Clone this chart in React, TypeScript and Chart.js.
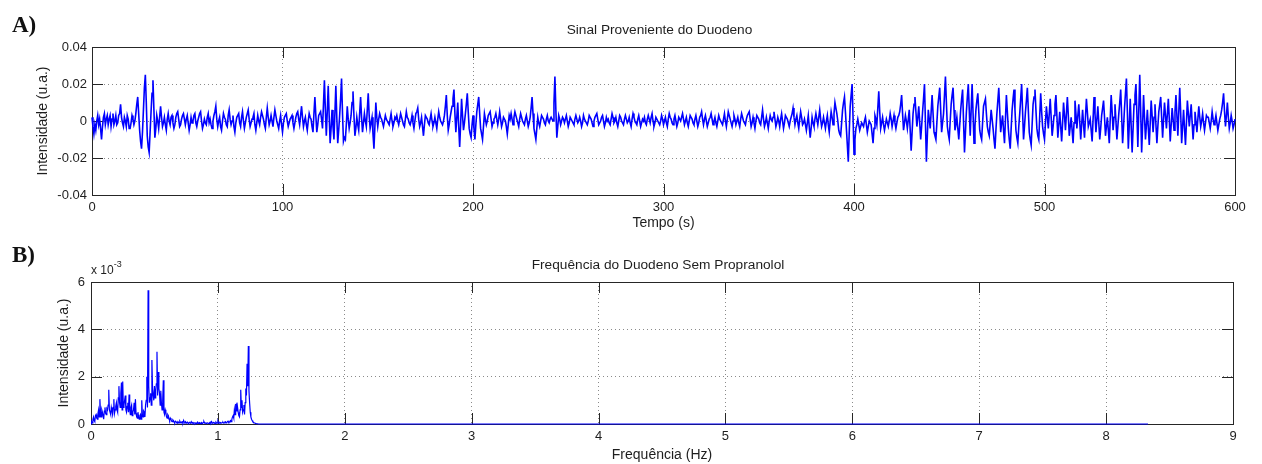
import React, { useEffect, useRef } from 'react';
import { Chart, registerables } from 'chart.js';

Chart.register(...registerables);

// ---------- Panel A: time signal (values in units of 1e-3 u.a., one sample every 0.5 s) ----------
const SIGNAL_DT = 0.5; // s
const signalMilli: number[] = [
  2, -3, -7, -2, -5, 0, 3, -2, 1, -4, -10, -3, 2, 4, -2, 1, 3, -2, 1, 3, -3, 1, 4, -2, 0, 3, -2, -1, 3, 4, 9, 2, -1, -3, 2, 0, -3, 3, 1, -4,
  -4, -1, 3, 1, -2, 0, 4, 9, 13, 4, -5, -11, -15, -6, 6, 18, 25, 10, -8, -14, -17, -6, 5, 15, 22, 6, -9, -4, 3, 0, -4, 2, 8, 2, -3, -1, 2, -2, -5, 1,
  4, 0, -2, 2, 3, -1, -4, -2, 2, 4, 5, 1, -3, -2, 1, 3, 4, 1, -2, 1, 3, -1, -5, -2, 2, -1, 0, 3, 4, -1, -3, 0, 2, 4, 5, 0, -4, -2, 1, -1,
  -2, 2, 4, -1, 1, -2, -4, 0, 3, 5, 8, 1, -3, 0, 2, -3, -5, 0, 4, 2, 1, -2, -3, 3, 6, 1, -2, 0, 3, -3, -6, -1, 2, 3, 4, -1, -3, 2, 5, 0,
  -4, -1, 2, 4, 6, 1, -3, -1, 1, 2, 4, -2, -5, -1, 3, 0, -2, 2, 5, 3, 1, -2, -4, 2, 7, 2, -2, 0, 3, 0, -3, 2, 6, 3, 0, -2, -4, 0, 3, -2,
  -6, -1, 2, 3, 4, 0, -3, -1, 1, 2, 3, -1, -4, -1, 2, 4, 5, 1, -2, 3, 8, 2, -3, 0, 2, -2, -5, 0, 4, 2, 1, -3, -6, 4, 13, 3, -6, -2, 3, 4,
  5, 1, -4, 9, 22, 6, -8, 5, 19, 3, -12, -4, 6, -3, -10, 4, 19, 2, -12, -5, 3, 12, 23, 4, -11, -9, -10, -2, 8, 1, -4, -1, 3, 10, 16, 3, -8, -4, 2, -2,
  -5, 4, 13, 2, -6, -1, 4, 0, -3, 6, 15, 3, -4, -1, 2, -7, -15, -3, 10, 2, -3, 1, 4, 2, 1, -1, -3, 0, 3, 1, 0, -1, -2, 1, 4, 0, -3, -1, 2, 1,
  3, 0, -2, 1, 4, 2, 0, -2, -3, 1, 5, 2, 1, -1, -2, 0, 3, -1, -4, 0, 4, 5, 7, 1, -3, -1, 2, -3, -8, -2, 3, 2, 1, -1, -2, 1, 4, 0, -3, -1,
  2, -1, -4, 1, 5, 2, 0, -1, -2, 0, 3, 8, 14, 3, -5, -2, 2, 5, 8, 12, 17, 4, -6, 2, 10, -3, -14, -2, 12, 3, -5, -1, 4, 9, 15, 5, -4, -7, -9, -2,
  3, -4, -10, -2, 5, 9, 13, 4, -4, -7, -10, -3, 4, 1, -2, 0, 3, 4, 5, 1, -3, -1, 1, 2, 4, 1, -2, 1, 5, 1, -3, -1, 2, 1, 0, -3, -7, -2, 3, 1,
  4, 1, -2, 2, 5, 3, 1, -1, -3, 1, 4, 2, 0, -1, -2, 1, 3, 0, -3, -1, 2, 7, 13, 4, -4, -7, -10, -4, 2, -1, -3, 0, 3, 2, 1, -1, -2, 1, 3, 0,
  -1, 1, 2, 1, 0, 10, 24, 6, -9, -3, 3, 1, -2, 0, 2, 1, -1, 1, 3, 0, -3, -1, 2, 1, 0, -1, -2, 1, 3, 1, -1, 0, 2, 0, -3, -1, 3, 1, 0, -1,
  -2, 0, 3, 2, 1, -1, -3, 0, 2, 3, 4, 1, -2, -1, 0, 2, 3, 0, -3, -1, 2, 0, 1, -1, -2, 1, 4, 2, -1, 0, 2, -1, -3, 0, 3, 2, 0, -1, -2, 1,
  3, 1, -1, 0, 2, -1, -3, 1, 4, 2, 0, -1, -2, 1, 3, 0, -3, -1, 1, 0, 2, -1, -2, 1, 3, 1, -1, 2, 4, 0, -3, -1, 2, 1, 0, -1, -2, 0, 3, 1,
  -2, 0, 2, -1, -3, 1, 4, 2, 1, -1, -2, 1, 3, 0, -3, -1, 2, 1, 0, 2, 4, 1, -2, 0, 2, -1, -3, 0, 3, 2, 1, -1, -2, 1, 3, 0, -3, -1, 2, 3,
  5, 1, -2, 1, 3, 0, -3, -1, 1, 2, 4, 1, -2, 0, 2, -1, -3, 0, 3, 1, 0, -1, -2, 1, 4, 0, -3, 1, 5, 3, 1, -1, -3, 0, 3, 1, -2, 0, 2, -1,
  -3, 1, 4, 2, 0, -1, -2, 1, 3, 4, 5, 1, -3, -1, 2, -1, -4, 0, 3, 2, 1, -1, -2, 2, 6, 1, -3, -1, 2, -1, -4, 0, 3, 1, 0, 2, 5, 1, -3, -1,
  2, 0, -3, 1, 4, 0, -4, -1, 3, 2, 1, -1, -3, 0, 2, 4, 7, 2, -2, 1, 3, -1, -4, 1, 5, 2, -2, -1, 1, -2, -5, -1, 3, -3, -9, -4, 2, -1, -3, 1,
  4, 1, -2, 2, 6, 1, -3, -1, 2, -1, -4, 0, 3, -2, -6, 0, 5, 2, -2, 4, 10, 7, 4, 0, -5, -7, -8, -1, 6, 10, 13, 5, -4, -13, -22, -6, 8, 14, 20, 2,
  -18, -10, -4, -2, 1, -2, -5, -3, -1, -2, -3, 0, 2, -2, -6, -3, 0, -1, -2, -7, -12, -4, 3, 1, -2, 7, 16, 5, -4, -1, 2, -2, -5, -2, 1, -1, -3, 0, 4, 1,
  -3, 0, 3, -1, -4, -1, 2, 3, 5, 9, 14, 4, -5, -1, 3, 0, -4, 1, 6, -5, -16, -6, 4, 9, 13, 5, -3, 2, 8, -1, -10, -3, 5, 12, 20, -1, -22, -8, 6, 1,
  -4, 5, 14, 4, -6, -8, -10, -1, 8, 13, 18, 6, -6, -1, 4, 14, 24, 10, -3, -7, -10, 0, 9, 14, 18, 6, -5, -2, 2, -4, -10, -2, 6, 12, 17, 0, -17, -6, 5, 13,
  20, 6, -8, 6, 20, 4, -12, -3, 6, 11, 15, 5, -5, -8, -10, -1, 8, 10, 12, 4, -3, -6, -8, -1, 6, 1, -4, -10, -15, -5, 4, 11, 18, 6, -6, -1, 3, -5, -12, 1,
  14, 5, -4, -10, -15, -4, 6, 12, 17, 6, -5, -9, -12, -3, 4, 12, 20, 5, -10, -3, 5, 11, 18, 6, -6, -10, -13, -2, 9, 13, 17, 6, -4, -8, -10, 3, 15, 5, -3, -7,
  -10, -1, 8, 2, -4, 4, 12, 2, -8, -3, 3, 9, 14, 3, -9, -2, 5, -3, -11, -1, 10, 3, -5, 4, 13, 3, -8, -3, 2, -5, -12, -1, 11, 4, -4, 3, 9, 0, -10, -2,
  6, -2, -9, 2, 12, 5, -3, -1, 1, -5, -11, 1, 13, 4, -6, 1, 8, -1, -10, -4, 3, 7, 11, 2, -8, -3, 2, -5, -12, 1, 14, 5, -5, 2, 9, 0, -10, -3, 4, 10,
  17, 3, -12, -3, 7, 15, 23, 5, -15, -2, 12, -3, -17, -4, 9, 14, 20, 4, -14, 6, 25, 5, -17, -2, 14, 2, -10, -2, 6, -4, -13, -1, 11, 3, -6, 2, 9, -2, -12, -3,
  5, 9, 13, 2, -9, 1, 10, 3, -4, 4, 12, 1, -11, -2, 7, 1, -5, 5, 14, 3, -8, 5, 18, 4, -12, -3, 6, -4, -13, -1, 11, 4, -3, 3, 9, -1, -10, -2, 5, 0,
  -6, 1, 8, 2, -3, 0, 4, -1, -5, -1, 3, 2, 2, -1, -4, 0, 5, 1, -2, 0, 3, -1, -5, -2, 1, 3, 6, 10, 15, 5, -3, 3, 10, 2, -4, -1, 3, 0, -4, -2,
  1,
];
const timeRange = [0, 600];
const timeTickStep = 100;
const signalRange = [-0.04, 0.04];
const signalTickStep = 0.02;

// ---------- Panel B: spectrum (values in units of 1e-3 u.a., one bin every 0.005 Hz up to 1.35 Hz) ----------
const FREQ_STEP = 0.005; // Hz
const spectrumMilli: number[] = [
  0, 0.1, 0.05, 0.2, 0.3, 0.15, 0.1, 0.35, 0.4, 0.25, 0.2, 0.45, 0.6, 0.3, 1.05, 0.5, 0.3, 0.6, 0.5, 0.35,
  0.2, 0.55, 0.7, 0.45, 0.4, 0.65, 0.6, 0.8, 1.45, 0.6, 0.5, 0.4, 0.7, 0.55, 0.4, 0.7, 1.05, 0.45, 0.6, 0.75,
  0.9, 0.6, 0.5, 1.1, 1.6, 0.9, 0.7, 1.3, 1.75, 0.6, 1.8, 0.7, 0.8, 1.0, 1.2, 0.6, 0.5, 0.75, 0.9, 0.5,
  1.25, 0.6, 0.4, 0.7, 0.8, 0.35, 0.5, 0.6, 0.9, 0.4, 1.05, 0.45, 0.3, 0.25, 0.5, 0.3, 0.2, 0.35, 0.4, 0.2,
  1.0, 0.4, 0.3, 0.55, 0.5, 0.3, 0.8, 1.0, 2.0, 0.7, 5.65, 1.6, 0.9, 1.1, 1.3, 0.8, 2.7, 1.5, 1.2, 1.0,
  1.6, 1.1, 1.4, 1.7, 3.05, 1.2, 2.2, 1.5, 1.3, 0.8, 1.4, 0.9, 0.6, 1.0, 1.85, 0.5, 0.4, 0.6, 0.5, 0.3,
  0.25, 0.4, 0.35, 0.2, 0.15, 0.25, 0.2, 0.12, 0.1, 0.18, 0.15, 0.08, 0.05, 0.12, 0.1, 0.06, 0.04, 0.1, 0.08, 0.05,
  0.12, 0.07, 0.05, 0.09, 0.1, 0.05, 0.15, 0.08, 0.06, 0.1, 0.04, 0.06, 0.08, 0.04, 0.03, 0.07, 0.05, 0.03, 0.1, 0.05,
  0.04, 0.06, 0.02, 0.04, 0.05, 0.02, 0.03, 0.05, 0.08, 0.03, 0.04, 0.06, 0.02, 0.03, 0.06, 0.02, 0.03, 0.07, 0.1, 0.04,
  0.05, 0.03, 0.02, 0.05, 0.04, 0.02, 0.03, 0.06, 0.08, 0.04, 0.1, 0.05, 0.04, 0.07, 0.06, 0.03, 0.03, 0.08, 0.05, 0.04,
  0.12, 0.05, 0.04, 0.07, 0.06, 0.03, 0.03, 0.06, 0.08, 0.04, 0.05, 0.09, 0.1, 0.05, 0.06, 0.1, 0.12, 0.07, 0.08, 0.12,
  0.15, 0.1, 0.2, 0.3, 0.35, 0.25, 0.6, 0.4, 0.85, 0.55, 0.9, 0.7, 0.5, 0.35, 0.3, 0.6, 1.45, 0.7, 1.0, 0.5,
  0.6, 0.8, 0.4, 0.9, 1.5, 1.2, 2.55, 1.6, 3.3, 1.4, 0.9, 0.5, 0.3, 0.2, 0.15, 0.1, 0.08, 0.05, 0.04, 0.03,
  0.02, 0.01, 0.01, 0.005, 0, 0, 0, 0, 0, 0, 0,
];
const SPECTRUM_END_HZ = 8.33;
const freqRange = [0, 9];
const freqTickStep = 1;
const spectrumRange = [0, 0.006];
const spectrumTickStep = 0.002;

const FONT = "'Liberation Sans', Arial, Helvetica, sans-serif";
const TEXT = '#1e1e1e';
const LINE_BLUE = '#0000ff';

const matlabAxes = {
  id: 'matlabAxes',
  beforeDatasetsDraw(chart: any, _args: any, opts: any) {
    const { ctx, chartArea } = chart;
    const { left, right, top, bottom } = chartArea;
    const xs = chart.scales.x;
    const ys = chart.scales.y;
    const len = opts?.tickLen ?? 11;
    ctx.save();
    ctx.strokeStyle = '#262626';
    ctx.lineWidth = 1;
    ctx.setLineDash([]);
    ctx.beginPath();
    xs.ticks.forEach((t: any) => {
      const px = Math.round(xs.getPixelForValue(t.value)) + 0.5;
      ctx.moveTo(px, bottom);
      ctx.lineTo(px, bottom - len);
      ctx.moveTo(px, top);
      ctx.lineTo(px, top + len);
    });
    ys.ticks.forEach((t: any) => {
      const py = Math.round(ys.getPixelForValue(t.value)) + 0.5;
      ctx.moveTo(left, py);
      ctx.lineTo(left + len, py);
      ctx.moveTo(right, py);
      ctx.lineTo(right - len, py);
    });
    ctx.stroke();
    ctx.strokeRect(
      Math.round(left) + 0.5,
      Math.round(top) + 0.5,
      Math.round(right - left),
      Math.round(bottom - top)
    );
    ctx.restore();
  },
};

function makeConfig(p: {
  points: { x: number; y: number }[];
  topPad: number;
  xTitle: string;
  yTitle: string;
  yTitlePad: number;
  xRange: number[];
  xStep: number;
  yRange: number[];
  yStep: number;
  yFormat: (v: number) => string;
  yAxisWidth: number;
  xAxisHeight: number;
  rightPad: number;
  yTickPad: number;
  lineWidth: number;
}): any {
  return {
    type: 'line',
    data: {
      datasets: [
        {
          data: p.points,
          borderColor: LINE_BLUE,
          borderWidth: p.lineWidth,
          pointRadius: 0,
          fill: false,
          tension: 0,
          clip: 4,
        },
      ],
    },
    options: {
      responsive: false,
      animation: false,
      events: [],
      parsing: false,
      layout: { padding: { left: 0, right: p.rightPad, top: p.topPad, bottom: 0 } },
      plugins: {
        legend: { display: false },
        tooltip: { enabled: false },
        title: { display: false },
        matlabAxes: { tickLen: 11 },
      },
      scales: {
        x: {
          type: 'linear',
          min: p.xRange[0],
          max: p.xRange[1],
          afterFit: (s: any) => {
            s.height = p.xAxisHeight;
            s.paddingLeft = 0;
            s.paddingRight = 0;
          },
          ticks: {
            stepSize: p.xStep,
            autoSkip: false,
            maxRotation: 0,
            padding: 5,
            color: TEXT,
            font: { family: FONT, size: 13 },
            callback: (v: number) => String(Math.round(v)),
          },
          grid: { color: '#8a8a8a', lineWidth: 1, drawTicks: false },
          border: { display: false, dash: [1, 3] },
          title: {
            display: true,
            text: p.xTitle,
            color: TEXT,
            font: { family: FONT, size: 14 },
            padding: { top: 0, bottom: 0.5 },
          },
        },
        y: {
          type: 'linear',
          min: p.yRange[0],
          max: p.yRange[1],
          afterFit: (s: any) => {
            s.width = p.yAxisWidth;
            s.paddingTop = 0;
            s.paddingBottom = 0;
          },
          ticks: {
            stepSize: p.yStep,
            padding: p.yTickPad,
            color: TEXT,
            font: { family: FONT, size: 13 },
            callback: (v: number) => p.yFormat(v),
          },
          grid: { color: '#8a8a8a', lineWidth: 1, drawTicks: false },
          border: { display: false, dash: [1, 3] },
          title: {
            display: true,
            text: p.yTitle,
            color: TEXT,
            font: { family: FONT, size: 14 },
            padding: { top: p.yTitlePad, bottom: 0 },
          },
        },
      },
    },
    plugins: [matlabAxes],
  };
}

export default function App() {
  const refA = useRef<HTMLCanvasElement>(null);
  const refB = useRef<HTMLCanvasElement>(null);

  useEffect(() => {
    const signalPoints = signalMilli.map((v, i) => ({ x: i * SIGNAL_DT, y: v / 1000 }));
    const spectrumPoints = spectrumMilli.map((v, i) => ({ x: +(i * FREQ_STEP).toFixed(4), y: v / 1000 }));
    spectrumPoints.push({ x: SPECTRUM_END_HZ, y: 0 });

    const a = new Chart(
      refA.current!,
      makeConfig({
        points: signalPoints,
        topPad: 47,
        xTitle: 'Tempo (s)',
        yTitle: 'Intensidade (u.a.)',
        yTitlePad: 34.3,
        xRange: timeRange,
        xStep: timeTickStep,
        yRange: signalRange,
        yStep: signalTickStep,
        yFormat: (v) => (Math.abs(v) < 1e-9 ? '0' : v.toFixed(2)),
        yAxisWidth: 92,
        xAxisHeight: 37,
        rightPad: 27,
        yTickPad: 5,
        lineWidth: 1.6,
      })
    );
    const b = new Chart(
      refB.current!,
      makeConfig({
        points: spectrumPoints,
        topPad: 50,
        xTitle: 'Frequência (Hz)',
        yTitle: 'Intensidade (u.a.)',
        yTitlePad: 55.8,
        xRange: freqRange,
        xStep: freqTickStep,
        yRange: spectrumRange,
        yStep: spectrumTickStep,
        yFormat: (v) => String(Math.round(v * 1000)),
        yAxisWidth: 91,
        xAxisHeight: 40,
        rightPad: 29,
        yTickPad: 6,
        lineWidth: 1.2,
      })
    );
    return () => {
      a.destroy();
      b.destroy();
    };
  }, []);

  const panelLabel: React.CSSProperties = {
    position: 'absolute',
    left: 12,
    fontFamily: "'Liberation Serif', 'Times New Roman', serif",
    fontWeight: 'bold',
    fontSize: 23,
    lineHeight: '23px',
    color: '#111',
    margin: 0,
  };

  const chartTitle: React.CSSProperties = {
    position: 'absolute',
    fontFamily: FONT,
    fontSize: 13.7,
    lineHeight: '16px',
    color: TEXT,
    textAlign: 'center',
    whiteSpace: 'nowrap',
  };

  return (
    <div style={{ position: 'absolute', left: 0, top: 0, width: 1262, height: 464, background: '#fff', overflow: 'hidden' }}>
      <canvas ref={refA} width={1262} height={232} style={{ position: 'absolute', left: 0, top: 0 }} />
      <canvas ref={refB} width={1262} height={232} style={{ position: 'absolute', left: 0, top: 232 }} />
      <div style={{ ...chartTitle, left: 88, width: 1143, top: 22 }}>Sinal Proveniente do Duodeno</div>
      <div style={{ ...chartTitle, left: 87, width: 1142, top: 257 }}>Frequência do Duodeno Sem Propranolol</div>
      <div style={{ ...panelLabel, top: 13 }}>A)</div>
      <div style={{ ...panelLabel, top: 243 }}>B)</div>
      <div
        style={{
          position: 'absolute',
          left: 91,
          top: 264,
          fontFamily: FONT,
          fontSize: 12,
          lineHeight: '13px',
          color: TEXT,
          whiteSpace: 'nowrap',
        }}
      >
        <span>x 10</span>
        <span style={{ fontSize: 9, position: 'relative', top: -7 }}>-3</span>
      </div>
    </div>
  );
}
